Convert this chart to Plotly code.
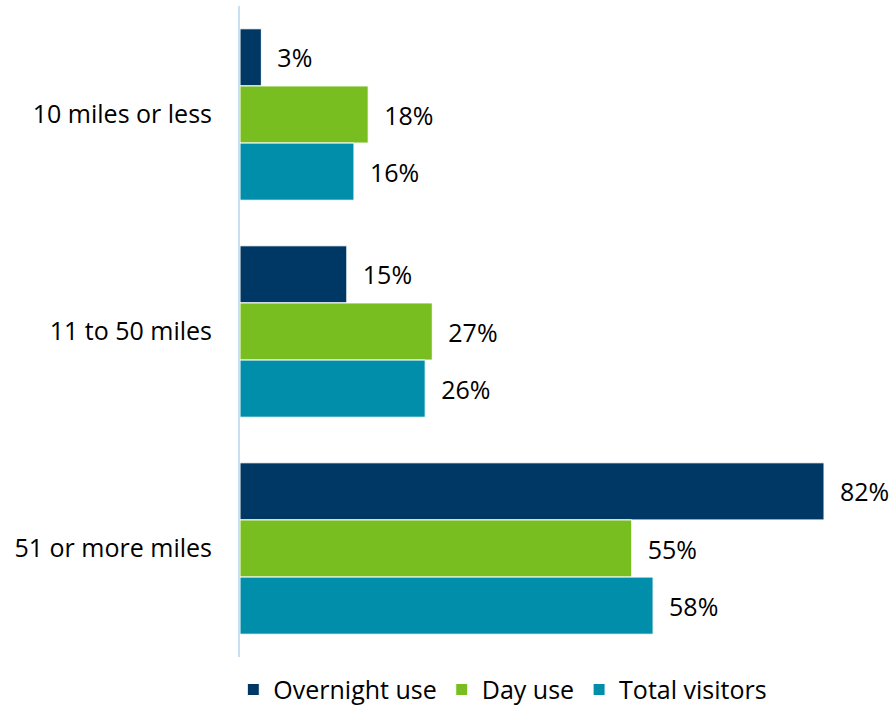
import plotly.graph_objects as go

categories = ["10 miles or less", "11 to 50 miles", "51 or more miles"]
series_names = ["Overnight use", "Day use", "Total visitors"]
overnight = [3, 15, 82]
day_use = [18, 27, 55]
total = [16, 26, 58]
colors = ["#003865", "#78BE21", "#008EAA"]

values = [overnight, day_use, total]
FONT = "Open Sans"
FS = 25

fig = go.Figure()
for name, vals, col in zip(series_names, values, colors):
    fig.add_trace(go.Bar(
        y=categories, x=vals, name=name, orientation="h",
        marker=dict(color=col, line=dict(color="white", width=1)),
        text=["\u00a0\u00a0" + f"{v}%" for v in vals],
        textposition="outside", cliponaxis=False,
        textfont=dict(size=FS, color="#000000", family=FONT),
    ))

fig.update_layout(
    width=896, height=706,
    barmode="group", bargap=0.21, bargroupgap=0.0,
    plot_bgcolor="white", paper_bgcolor="white",
    margin=dict(l=240, r=15, t=6, b=49, autoexpand=False),
    font=dict(family=FONT, size=FS, color="#000000"),
    showlegend=True,
    legend=dict(orientation="h", x=0.41, xanchor="center",
                yref="container", y=0.023, yanchor="middle",
                font=dict(size=FS), traceorder="normal", itemwidth=30),
)
fig.update_xaxes(range=[0, 90], showgrid=False, zeroline=False, showticklabels=False,
                 showline=False, automargin=False)
fig.update_yaxes(autorange="reversed", showgrid=False, showline=True, linecolor="#C9DFF2",
                 linewidth=2, ticks="", ticklabelstandoff=21, tickfont=dict(size=FS),
                 automargin=False)

fig.write_html("out.html", config={"displayModeBar": False},
               post_script="document.body.style.margin='0';document.body.style.overflow='hidden';")
